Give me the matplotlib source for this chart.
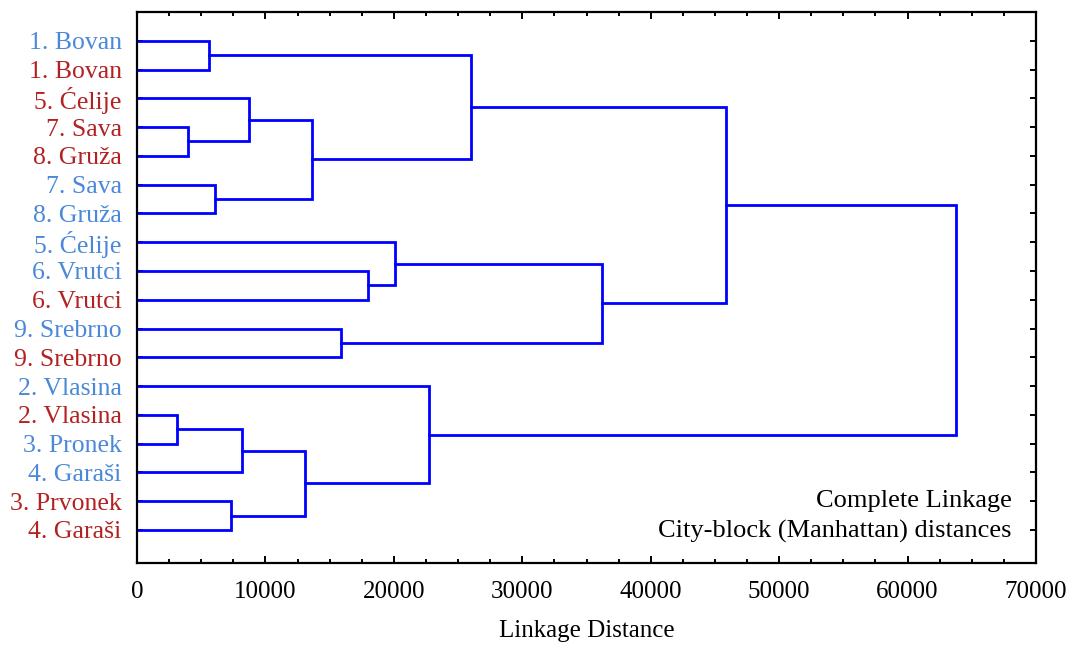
import matplotlib
matplotlib.use("Agg")
import matplotlib.pyplot as plt
from matplotlib.ticker import MultipleLocator

plt.rcParams["font.family"] = ["Liberation Serif", "DejaVu Serif"]

# Leaves, top to bottom
labels = ["1. Bovan", "1. Bovan", "5. Ćelije", "7. Sava", "8. Gruža",
          "7. Sava", "8. Gruža", "5. Ćelije", "6. Vrutci", "6. Vrutci",
          "9. Srebrno", "9. Srebrno", "2. Vlasina", "2. Vlasina",
          "3. Pronek", "4. Garaši", "3. Prvonek", "4. Garaši"]
groups = ["b", "r", "r", "r", "r", "b", "b", "b", "b", "r",
          "b", "r", "b", "r", "b", "b", "r", "r"]

# Merges: (child a, child b, linkage distance); new cluster ids start at 18
merges = [
    (13, 14, 3100),
    (3, 4, 4000),
    (0, 1, 5600),
    (5, 6, 6100),
    (16, 17, 7300),
    (18, 15, 8200),
    (2, 19, 8700),
    (23, 22, 13100),
    (24, 21, 13600),
    (10, 11, 15900),
    (8, 9, 18000),
    (7, 28, 20100),
    (12, 25, 22700),
    (20, 26, 26000),
    (29, 27, 36200),
    (31, 32, 45900),
    (33, 30, 63800),
]

colors = {"b": "#4a88d8", "r": "#b22222"}

fig = plt.figure(figsize=(10.75, 6.45), dpi=100)
ax = fig.add_axes([137 / 1075, 1 - 563 / 645, 899 / 1075, 551 / 645])

n = len(labels)
pos = {i: (0.0, i + 1.0) for i in range(n)}
for k, (a, b, h) in enumerate(merges):
    xa, ya = pos[a]
    xb, yb = pos[b]
    ax.plot([xa, h, h, xb], [ya, ya, yb, yb], color="#0000ff", lw=2.0,
            solid_joinstyle="miter")
    pos[n + k] = (h, (ya + yb) / 2)

ax.set_xlim(0, 70000)
ax.set_ylim(19.15, 0.0)
ax.xaxis.set_major_locator(MultipleLocator(10000))
ax.xaxis.set_minor_locator(MultipleLocator(2500))
ax.set_yticks(range(1, n + 1))
ax.set_yticklabels(labels)
for t, g in zip(ax.get_yticklabels(), groups):
    t.set_color(colors[g])

ax.tick_params(axis="both", which="both", direction="in",
               top=True, right=True, width=1.4)
ax.tick_params(axis="x", which="major", length=5, labelsize=18, pad=13)
ax.tick_params(axis="x", which="minor", length=3)
ax.tick_params(axis="y", length=4, labelsize=18.5, pad=11)
for s in ax.spines.values():
    s.set_linewidth(1.6)

ax.set_xlabel("Linkage Distance", fontsize=18, labelpad=12)

ax.text(0.973, 0.1125, "Complete Linkage", transform=ax.transAxes,
        ha="right", va="center", fontsize=19)
ax.text(0.973, 0.058, "City-block (Manhattan) distances", transform=ax.transAxes,
        ha="right", va="center", fontsize=19)

fig.savefig("out.png", dpi=100)
